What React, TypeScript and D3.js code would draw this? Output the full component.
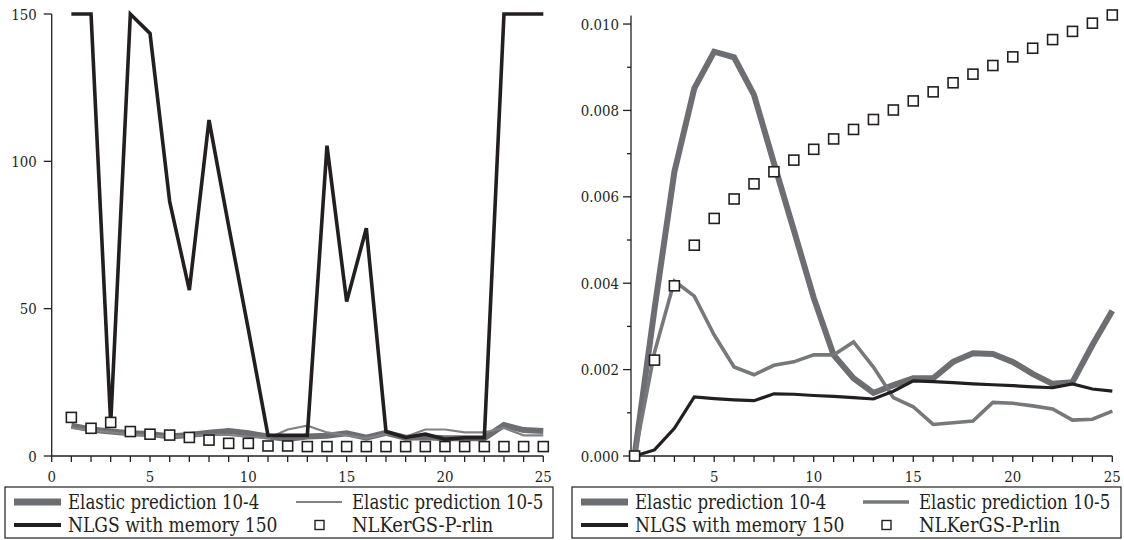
import React from 'react';
import * as d3 from 'd3';

const iterations = [1, 2, 3, 4, 5, 6, 7, 8, 9, 10, 11, 12, 13, 14, 15, 16, 17, 18, 19, 20, 21, 22, 23, 24, 25];

const leftElastic4 = [10.3, 9, 8.3, 7.7, 7.5, 6.6, 7.1, 7.9, 8.5, 7.7, 6.6, 5.8, 6.6, 6.9, 7.7, 6.2, 7.9, 6.2, 6.4, 6, 6, 6, 10.5, 8.8, 8.5];
const leftElastic5 = [9.5, 8.8, 8, 7.3, 7, 6.5, 6.8, 7.2, 7.2, 6.5, 6, 9, 10.3, 8, 7, 6, 7.5, 6.5, 9, 9, 8, 8, 9.5, 7, 7];
const leftNLGS = [150, 150, 11, 150, 143.4, 86.3, 56.3, 114, 78, 43, 7, 7, 7, 105.3, 52.4, 77.3, 8.3, 6.3, 7.4, 5.7, 6.2, 6.2, 150, 150, 150];
const leftKer = [13.1, 9.4, 11.4, 8.3, 7.4, 7.1, 6.3, 5.4, 4.3, 4.3, 3.4, 3.4, 3.2, 3.2, 3.2, 3.2, 3.2, 3.2, 3.2, 3.2, 3.2, 3.2, 3.2, 3.2, 3.2];

const rightElastic4 = [0, 0.0034, 0.00658, 0.00851, 0.00936, 0.00923, 0.00836, 0.00678, 0.00523, 0.00366, 0.00234, 0.0018, 0.00146, 0.00164, 0.0018, 0.0018, 0.00218, 0.00238, 0.00236, 0.00218, 0.0019, 0.00167, 0.00171, 0.00257, 0.00336];
const rightElastic5 = [0, 0.0024, 0.00405, 0.0037, 0.0028, 0.00206, 0.00188, 0.0021, 0.00218, 0.00234, 0.00234, 0.00264, 0.00206, 0.00135, 0.00114, 0.00073, 0.00077, 0.00081, 0.00124, 0.00122, 0.00116, 0.00109, 0.00083, 0.00085, 0.00104];
const rightNLGS = [0, 0.00014, 0.00064, 0.00137, 0.00133, 0.0013, 0.00128, 0.00144, 0.00143, 0.0014, 0.00138, 0.00135, 0.00132, 0.0015, 0.00174, 0.00172, 0.0017, 0.00167, 0.00165, 0.00163, 0.0016, 0.00158, 0.00167, 0.00155, 0.0015];
const rightKer = [0, 0.00222, 0.00394, 0.00488, 0.0055, 0.00595, 0.0063, 0.00658, 0.00685, 0.0071, 0.00734, 0.00756, 0.00779, 0.00801, 0.00822, 0.00843, 0.00864, 0.00884, 0.00904, 0.00924, 0.00944, 0.00964, 0.00983, 0.01002, 0.01021];

const leftYTicks = [0, 50, 100, 150];
const leftXLabels = [0, 5, 10, 15, 20, 25];
const rightYTicks = [0, 0.002, 0.004, 0.006, 0.008, 0.01];
const rightYMinor = [0.001, 0.003, 0.005, 0.007, 0.009];
const rightXLabels = [5, 10, 15, 20, 25];
const legendLabels = ['Elastic prediction 10-4', 'Elastic prediction 10-5', 'NLGS with memory 150', 'NLKerGS-P-rlin'];

const INK = '#231f20';
const GRAY = '#6d6e71';
const FONT = "'DejaVu Serif', serif";

// Times-like advance widths (per 1000 em) used to squeeze DejaVu Serif to a Times-like width
const ADV: Record<string, number> = {
  ' ': 250, '.': 250, '-': 333, E: 611, l: 278, a: 444, s: 389, t: 278, i: 278, c: 444, p: 500, r: 333,
  e: 444, d: 500, o: 500, n: 500, N: 722, L: 611, G: 722, S: 556, w: 722, h: 500, m: 778, y: 500, K: 722, P: 556,
};
const timesWidth = (s: string, size: number) =>
  (s.split('').reduce((acc, ch) => acc + (ADV[ch] ?? 500), 0) / 1000) * size;

function T(props: { x: number; y: number; s: string; size: number; refSize: number; anchor?: string }) {
  return (
    <text
      x={props.x}
      y={props.y}
      textAnchor={props.anchor || 'start'}
      textLength={timesWidth(props.s, props.refSize)}
      lengthAdjust="spacingAndGlyphs"
      style={{ fontFamily: FONT, fontSize: props.size + 'px' }}
      fill={INK}
    >
      {props.s}
    </text>
  );
}

type PanelProps = {
  x0: number; x1: number; xDomain: [number, number];
  yTop: number; yDomain: [number, number];
  yTicks: number[]; yMinor: number[]; yFmt: (v: number) => string; yGap: number;
  xTicks: number[]; xLabels: number[];
  e4: number[]; e5: number[]; nl: number[]; ker: number[];
  e5Width: number; e5Color: string; nlWidth: number;
  box: { x: number; w: number };
};

function Panel(p: PanelProps) {
  const x = d3.scaleLinear().domain(p.xDomain).range([p.x0, p.x1]);
  const y = d3.scaleLinear().domain(p.yDomain).range([456, p.yTop]);
  const line = (vals: number[]) =>
    d3.line<number>().x((_, i) => x(iterations[i])).y((d) => y(d))(vals) || '';
  const axisX = x(p.xDomain[0]);
  const by = 487;
  const bh = 51;
  const r1 = by + 15;
  const r2 = by + 38;
  const bx = p.box.x;
  const col2 = bx + 291;
  const LS = 19.5;
  const LR = 21;
  return (
    <g>
      <line x1={axisX} x2={axisX} y1={y(p.yDomain[1])} y2={456} stroke={INK} strokeWidth={1.3} />
      <line x1={axisX} x2={x(25)} y1={456} y2={456} stroke={INK} strokeWidth={1.3} />
      {p.yTicks.map((t) => (
        <g key={'yt' + t}>
          <line x1={axisX - 8} x2={axisX} y1={y(t)} y2={y(t)} stroke={INK} strokeWidth={1.3} />
          <T x={axisX - p.yGap} y={y(t) + 5.5} s={p.yFmt(t)} size={15.5} refSize={17} anchor="end" />
        </g>
      ))}
      {p.yMinor.map((t) => (
        <line key={'ym' + t} x1={axisX - 4} x2={axisX} y1={y(t)} y2={y(t)} stroke={INK} strokeWidth={1.3} />
      ))}
      {p.xTicks.map((t) => (
        <line key={'xt' + t} x1={x(t)} x2={x(t)} y1={456} y2={462} stroke={INK} strokeWidth={1.3} />
      ))}
      {p.xLabels.map((t) => (
        <T key={'xl' + t} x={x(t)} y={482} s={String(t)} size={15.5} refSize={17} anchor="middle" />
      ))}
      <path d={line(p.e4)} fill="none" stroke={GRAY} strokeWidth={6} />
      <path d={line(p.e5)} fill="none" stroke={p.e5Color} strokeWidth={p.e5Width} />
      <path d={line(p.nl)} fill="none" stroke={INK} strokeWidth={p.nlWidth} />
      {p.ker.map((v, i) => (
        <rect key={'k' + i} x={x(iterations[i]) - 5} y={y(v) - 5} width={10} height={10} fill="#fff" stroke={INK} strokeWidth={1.6} />
      ))}
      <rect x={bx} y={by} width={p.box.w} height={bh} fill="#fff" stroke={INK} strokeWidth={1.2} />
      <line x1={bx + 9} x2={bx + 56} y1={r1} y2={r1} stroke={GRAY} strokeWidth={7} />
      <T x={bx + 63} y={r1 + 7} s={legendLabels[0]} size={LS} refSize={LR} />
      <line x1={col2} x2={col2 + 46} y1={r1} y2={r1} stroke={p.e5Color} strokeWidth={p.e5Width} />
      <T x={col2 + 56} y={r1 + 7} s={legendLabels[1]} size={LS} refSize={LR} />
      <line x1={bx + 9} x2={bx + 56} y1={r2} y2={r2} stroke={INK} strokeWidth={4} />
      <T x={bx + 63} y={r2 + 7} s={legendLabels[2]} size={LS} refSize={LR} />
      <rect x={col2 + 19} y={r2 - 4.5} width={9} height={9} fill="#fff" stroke={INK} strokeWidth={1.4} />
      <T x={col2 + 56} y={r2 + 7} s={legendLabels[3]} size={LS} refSize={LR} />
    </g>
  );
}

export default function App() {
  return (
    <svg width={1124} height={540} style={{ position: 'absolute', left: 0, top: 0, background: '#fff' }}>
      <Panel
        x0={51.7} x1={543.3} xDomain={[0, 25]}
        yTop={14} yDomain={[0, 150]}
        yTicks={leftYTicks} yMinor={[]} yFmt={(v) => String(v)} yGap={15}
        xTicks={[0, ...iterations]} xLabels={leftXLabels}
        e4={leftElastic4} e5={leftElastic5} nl={leftNLGS} ker={leftKer}
        e5Width={2.2} e5Color="#808285" nlWidth={3.6}
        box={{ x: 5, w: 548 }}
      />
      <Panel
        x0={631} x1={1112.3} xDomain={[0.82, 25]}
        yTop={15.4} yDomain={[0, 0.0102]}
        yTicks={rightYTicks} yMinor={rightYMinor} yFmt={(v) => d3.format('.3f')(v)} yGap={12}
        xTicks={iterations} xLabels={rightXLabels}
        e4={rightElastic4} e5={rightElastic5} nl={rightNLGS} ker={rightKer}
        e5Width={3.6} e5Color="#77787b" nlWidth={3.2}
        box={{ x: 572, w: 549 }}
      />
    </svg>
  );
}
